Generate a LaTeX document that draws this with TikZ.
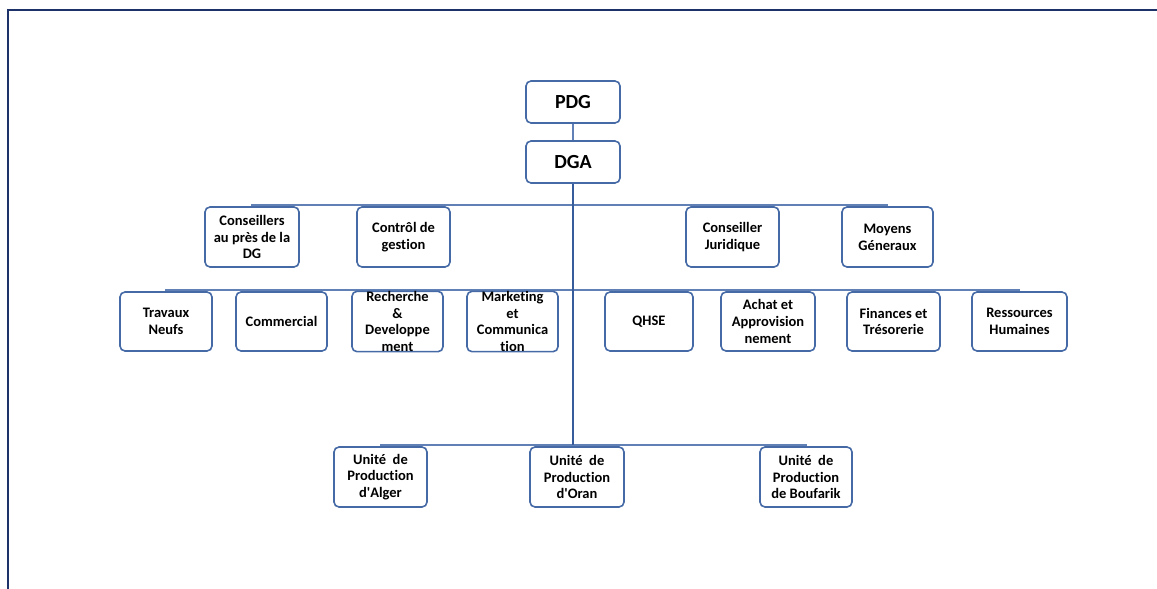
\documentclass[tikz,border=0pt]{standalone}
\usepackage{fontspec}
\setmainfont{Carlito}[Ligatures={NoCommon}]
\usetikzlibrary{backgrounds}
\definecolor{boxc}{RGB}{70,106,166}
\definecolor{busc}{RGB}{96,128,182}
\definecolor{trunkc}{RGB}{55,92,155}
\definecolor{framec}{RGB}{28,50,105}
\begin{document}
\begin{tikzpicture}[x=1pt,y=-1pt,
  orgbox/.style={draw=boxc, line width=1.6pt, rounded corners=5pt, fill=white,
    minimum height=60pt, align=center, inner sep=0pt,
    font=\bfseries\fontsize{14.5}{16.7}\selectfont},
  topbox/.style={orgbox, minimum width=94pt, minimum height=42pt,
    font=\bfseries\fontsize{20}{22}\selectfont},
  bus/.style={draw=busc, line width=1.6pt},
  trunk/.style={draw=trunkc, line width=2.2pt}]
\useasboundingbox (0,0) rectangle (1157,589);
% frame
\draw[framec, line width=2.2pt] (8,589) -- (8,10) -- (1157,10);
% bus coordinates
\coordinate (b1) at (573,205);
\coordinate (b2) at (573,290);
\coordinate (b3) at (573,445);
% nodes
\node[topbox] (pdg) at (573,102) {PDG};
\node[topbox] (dga) at (573,162) {DGA};
\node[orgbox, minimum width=94pt] (c1) at (252,237) {Conseillers\\au près de la\\DG};
\node[orgbox, minimum width=93pt] (c2) at (403.5,237) {Contrôl de\\gestion};
\node[orgbox, minimum width=93pt] (c3) at (732.5,237) {Conseiller\\Juridique};
\node[orgbox, minimum width=91pt] (c4) at (887.5,237) {Moyens\\Géneraux};
\node[orgbox, minimum width=92pt, minimum height=59pt] (d1) at (166,321.5) {Travaux\\Neufs};
\node[orgbox, minimum width=91pt, minimum height=59pt] (d2) at (281.5,321.5) {Commercial};
\node[orgbox, minimum width=91pt, minimum height=59pt] (d3) at (397.5,321.5) {Recherche\\\&\\Developpe\\ment};
\node[orgbox, minimum width=91pt, minimum height=59pt] (d4) at (512.5,321.5) {Marketing\\et\\Communica\\tion};
\node[orgbox, minimum width=88pt, minimum height=59pt] (d5) at (649,321.5) {QHSE};
\node[orgbox, minimum width=94pt, minimum height=59pt] (d6) at (768,321.5) {Achat et\\Approvision\\nement};
\node[orgbox, minimum width=93pt, minimum height=59pt] (d7) at (893.5,321.5) {Finances et\\Trésorerie};
\node[orgbox, minimum width=95pt, minimum height=59pt] (d8) at (1019.5,321.5) {Ressources\\Humaines};
\node[orgbox, minimum width=93pt] (e1) at (380.5,477) {Unité~ de\\Production\\d\textquotesingle Alger};
\node[orgbox, minimum width=94pt] (e2) at (577,477) {Unité~ de\\Production\\d\textquotesingle Oran};
\node[orgbox, minimum width=92pt] (e3) at (806,477) {Unité~ de\\Production\\de Boufarik};
% connectors
\begin{scope}[on background layer]
\draw[bus] (pdg) -- (dga);
\draw[bus] (c1.north) -- (c1.north |- b1) -- (c4.north |- b1) -- (c4.north);
\draw[bus] (c2.north) -- (c2.north |- b1);
\draw[bus] (c3.north) -- (c3.north |- b1);
\draw[bus] (d1.north) -- (d1.north |- b2) -- (d8.north |- b2) -- (d8.north);
\foreach \n in {d2,d3,d4,d5,d6,d7} \draw[bus] (\n.north) -- (\n.north |- b2);
\draw[bus] (e1.north) -- (e1.north |- b3) -- (e3.north |- b3) -- (e3.north);
\draw[bus] (e2.north) -- (e2.north |- b3);
\draw[trunk] (dga.south) -- (b3);
\end{scope}
\end{tikzpicture}
\end{document}
